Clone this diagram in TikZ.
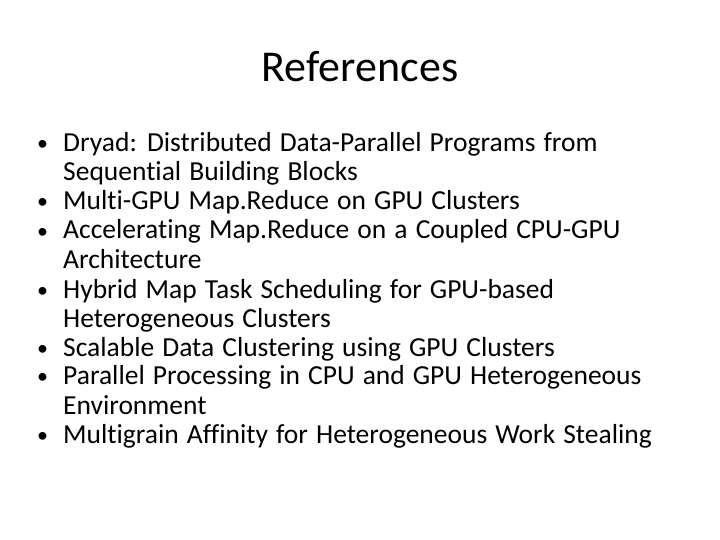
\documentclass[tikz,border=0pt]{standalone}
\usepackage{fontspec}
\setmainfont[Ligatures={NoCommon,NoRequired,NoContextual},WordSpace=1.3]{Carlito}
\begin{document}
\begin{tikzpicture}[x=1pt,y=-1pt,
  ln/.style={anchor=base west,inner sep=0pt,font=\fontsize{27.5}{32}\selectfont},
  bl/.style={anchor=base west,inner sep=0pt,font=\fontsize{22}{26}\selectfont}]
\useasboundingbox (0,0) rectangle (720,540);
\node[anchor=base,inner sep=0pt,font=\fontsize{44}{52}\selectfont] (title) at (360,82) {References};
\foreach \y/\t/\b [count=\i] in {
 152/{Dryad: Distributed Data-Parallel Programs from}/1,
 181/{Sequential Building Blocks}/0,
 210/{Multi-GPU Map.Reduce on GPU Clusters}/1,
 239/{Accelerating Map.Reduce on a Coupled CPU-GPU}/1,
 268/{Architecture}/0,
 298/{Hybrid Map Task Scheduling for GPU-based}/1,
 327/{Heterogeneous Clusters}/0,
 356/{Scalable Data Clustering using GPU Clusters}/1,
 384/{Parallel Processing in CPU and GPU Heterogeneous}/1,
 414/{Environment}/0,
 443/{Multigrain Affinity for Heterogeneous Work Stealing}/1}{
  \node[ln] (l\i) at (63,\y) {\t};
  \ifnum\b=1 \node[bl] (b\i) at (37,\y-1) {•};\fi
}
\end{tikzpicture}
\end{document}
